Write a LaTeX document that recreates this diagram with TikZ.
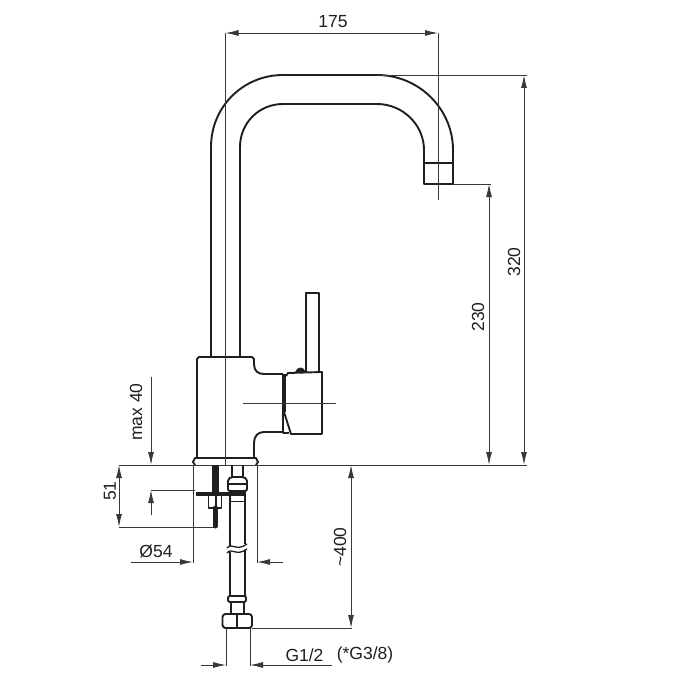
\documentclass[tikz,border=0pt]{standalone}
\usepackage{fontspec}
\setmainfont{Liberation Sans}
\usetikzlibrary{arrows.meta}
\definecolor{ink}{gray}{0.12}
\definecolor{dimink}{gray}{0.22}
\tikzset{
  part/.style={draw=ink,line width=1.9pt,line join=round},
  heavy/.style={draw=ink,line width=3.4pt},
  extline/.style={draw=dimink,line width=0.9pt},
  dimline/.style={draw=dimink,line width=0.9pt},
  tipend/.style={-{Latex[length=13pt,width=6pt]}},
  tipboth/.style={{Latex[length=13pt,width=6pt]}-{Latex[length=13pt,width=6pt]}},
  lab/.style={text=ink,font=\fontsize{17.5}{19}\selectfont,inner sep=0pt},
}
\begin{document}
\begin{tikzpicture}[x=1pt,y=-1pt]
\useasboundingbox[fill=white] (0,0) rectangle (674,674);

% spout
\draw[part] (211,357) -- (211,147) .. controls (211,107) and (243,75) .. (283,75) -- (377,75)
   .. controls (419,75) and (453,109) .. (453,150) -- (453,184) -- (424,184) -- (424,150)
   .. controls (424,125) and (403,104) .. (377,104) -- (283,104)
   .. controls (259,104) and (240,123) .. (240,147) -- (240,357);
\draw[part] (424,163) -- (453,163);

% body
\draw[part] (197,458) -- (197,359) -- (199,357) -- (252,357) -- (254,359) -- (254,364)
   .. controls (254,371) and (258,374) .. (264,374) -- (283,374);
\draw[part] (283,432) -- (264,432) .. controls (258,432) and (254,436) .. (254,443) -- (254,458);
\draw[part] (195,465) -- (193,462) -- (195,458) -- (256,458) -- (258,462) -- (256,465);
\draw[heavy] (284,374) -- (284,412);
\draw[part] (283,412) -- (283,433) -- (289,433);

% handle
\draw[part] (286,376) -- (288,373) -- (322,372) -- (322,434) -- (291,434) -- (284,412);
\draw[part] (306,372) -- (306,293) -- (319,293) -- (319,372);
\fill[ink] (295,372) .. controls (298,366) and (303,366) .. (306,372) -- cycle;
\draw[extline] (243,403) -- (336,403);

% centre lines and extension lines
\draw[extline] (225.5,33) -- (225.5,465);
\draw[extline] (438,33) -- (438,200);
\draw[extline] (377,75) -- (527,75);
\draw[extline] (453,184) -- (491,184);
\draw[extline] (119,465) -- (527,465);
\draw[extline] (119,527) -- (215,527);
\draw[extline] (151,490) -- (195,490);
\draw[extline] (193,465) -- (193,563);
\draw[extline] (257,465) -- (257,563);
\draw[extline] (252,628) -- (352,628);
\draw[extline] (226,628) -- (226,666);
\draw[extline] (250,628) -- (250,666);

% mounting stud and plate
\draw[draw=ink,line width=7pt] (215.5,465) -- (215.5,494);
\draw[draw=ink,line width=4.5pt] (196,494) -- (231,494);
\draw[part,line width=1.4pt] (208.5,496) -- (208.5,508) -- (221.5,508) -- (221.5,496);
\draw[part,line width=2pt] (215.5,496) -- (215.5,508);
\draw[draw=ink,line width=5pt,line cap=round] (215.5,508) -- (215.5,526);

% hose
\draw[part] (232,465) -- (232,477);
\draw[part] (243,465) -- (243,477);
\draw[part,rounded corners=2pt] (231,477) -- (228,479) -- (228,491) -- (247,491) -- (247,479) -- (244,477) -- cycle;
\draw[part,line width=1.4pt] (229,484) -- (246,484);
\draw[draw=ink,line width=3.4pt] (230,494) -- (245,494);
\draw[part] (230,501.5) -- (245,501.5);
\draw[part] (230,491) -- (230,546);
\draw[part] (245,491) -- (245,544);
\draw[part] (230,552) -- (230,597);
\draw[part] (245,550) -- (245,597);
\draw[part,line width=1.3pt] (227,548) .. controls (232,542) and (236,552) .. (247,544);
\draw[part,line width=1.3pt] (227,553) .. controls (232,547) and (236,557) .. (247,549);
\draw[part,rounded corners=2pt] (228,596) rectangle (246,602);
\draw[part] (231,602) -- (231,614);
\draw[part] (244,602) -- (244,614);
\draw[part,rounded corners=3pt] (222.5,614) rectangle (252,628);
\draw[part] (237,614) -- (237,628);

% dimensions
\draw[dimline,tipboth] (225.5,33) -- (438,33);
\draw[dimline,tipboth] (524,75) -- (524,465);
\draw[dimline,tipboth] (489,184) -- (489,465);
\draw[dimline,tipboth] (119,465) -- (119,527);
\draw[dimline,tipboth] (351,465) -- (351,628);
\draw[dimline,tipend] (151,377) -- (151,465);
\draw[dimline,tipend] (151,515) -- (151,490);
\draw[dimline,tipend] (131,562) -- (193,562);
\draw[dimline,tipend] (283,562) -- (257,562);
\draw[dimline,tipend] (201,665) -- (226,665);
\draw[dimline,tipend] (332,665) -- (250,665);

% labels
\node[lab] (l175) at (333,22) {175};
\node[lab,rotate=90] (l320) at (514,262) {320};
\node[lab,rotate=90] (l230) at (478,317) {230};
\node[lab,rotate=90] (lmax) at (136,412) {max 40};
\node[lab,rotate=90] (l51) at (110,491) {51};
\node[lab,rotate=90] (l400) at (340,547) {\char`\~400};
\node[lab] (l54) at (156,551) {Ø54};
\node[lab] (lg12) at (304.5,655) {G1/2};
\node[lab] (lg38) at (365,655) {(*G3/8)};
\end{tikzpicture}
\end{document}
